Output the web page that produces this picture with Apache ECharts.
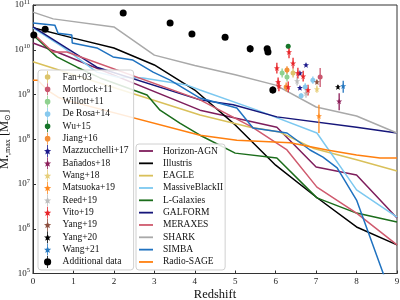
<!DOCTYPE html>
<html>
<head>
<meta charset="utf-8">
<script src="https://cdn.jsdelivr.net/npm/echarts@6/dist/echarts.min.js"></script>
<style>
html, body { margin: 0; padding: 0; background: #fff; }
#chart { width: 400px; height: 300px; }
</style>
</head>
<body>
<div id="chart"></div>
<script>
// model curves: [redshift, log10 Mbh]
const horizonAGN = [[0, 10.15], [0.59, 9.95], [4.13, 8.65], [6.03, 8.27], [7.0, 7.38], [8.0, 7.2], [9, 6.24]];
const illustris = [[0, 10.49], [1, 10.26], [2, 10.04], [3, 9.66], [4, 9.1], [5, 8.32], [6, 7.42], [7, 6.71], [8, 6.04], [9, 5.64]];
const eagle = [[0, 9.73], [4.13, 8.54], [5.37, 8.27], [6.1, 8.16], [6.92, 7.8], [8.0, 7.54], [9, 7.29]];
const massiveBlack = [[0, 10.49], [0.74, 10.06], [1.58, 9.5], [2.08, 9.39], [2.72, 9.37], [3.81, 9.21], [4.13, 9.1], [5.54, 8.65], [7.02, 8.14], [8.0, 6.87], [9, 6.26]];
const lGalaxies = [[0, 10.33], [0.59, 9.84], [1.09, 9.61], [1.66, 9.37], [2.82, 8.99], [3.14, 8.65], [3.63, 8.36], [4.13, 8.09], [5.0, 7.69], [6.03, 7.58], [7.02, 6.69], [8.0, 6.35], [9, 6.15]];
const galform = [[0, 10.51], [1.58, 9.61], [4.13, 8.88], [4.95, 8.77], [6.03, 8.5], [8.0, 8.27], [9, 8.14]];
const meraxes = [[0, 10.37], [0.49, 9.95], [0.84, 9.95], [4.13, 8.88], [5.42, 8.27], [6.28, 7.76], [7.02, 6.93], [8.0, 6.35], [9, 5.64]];
const shark = [[0, 10.84], [0.5, 10.69], [2, 10.51], [3, 9.88], [4, 9.65], [5, 9.44], [6, 9.21], [7, 8.72], [8, 8.52], [9, 8.14]];
const simba = [[0, 10.6], [0.54, 10.55], [0.62, 10.37], [0.96, 10.33], [0.97, 10.15], [1.58, 10.04], [1.98, 9.84], [2.47, 9.77], [2.97, 9.5], [3.39, 9.32], [4.13, 8.92], [5.04, 8.7], [5.44, 8.25], [6.28, 8.14], [6.85, 7.76], [7.17, 7.6], [7.52, 7.36], [8.0, 6.64], [8.7, 4.9]];
const radioSage = [[0, 9.32], [0.12, 9.32], [0.3, 9.15], [0.42, 9.06], [0.62, 8.94], [0.79, 8.88], [4.13, 8.09], [5.04, 7.98], [6.36, 7.92], [7.27, 7.76], [8.0, 7.65], [8.58, 7.58], [9, 7.58]];

// observed quasars: [redshift, log10 Mbh, err down, err up]
const fan03 = [[6.43, 9.48, 0.1, 0.1]];
const mortlock11 = [[7.1, 9.39, 0.22, 0.2]];
const willott11 = [[6.16, 9.48, 0.1, 0.1], [6.28, 9.39, 0.1, 0.1]];
const deRosa14 = [[6.73, 9.17, 0.08, 0.08], [6.92, 9.32, 0.08, 0.08], [6.63, 8.97, 0.06, 0.06]];
const wu15 = [[6.31, 10.08, 0.05, 0.05]];
const jiang16 = [[6.28, 9.55, 0.08, 0.08], [6.26, 9.17, 0.1, 0.1]];
const mazzucchelli17 = [[6.75, 9.66, 0.03, 0.03], [6.6, 9.48, 0.03, 0.03], [6.6, 9.15, 0.03, 0.03]];
const banados18 = [[7.57, 8.85, 0.2, 0.18]];
const wang18 = [[7.02, 9.12, 0.08, 0.08]];
const matsuoka19 = [[7.07, 8.52, 0.38, 0.25]];
const reed19 = [[6.53, 9.3, 0.1, 0.1], [6.75, 9.03, 0.1, 0.1]];
const vito19 = [[6.33, 9.95, 0.14, 0.12], [6.03, 9.59, 0.12, 0.12], [6.06, 9.28, 0.1, 0.1], [6.08, 9.19, 0.12, 0.12], [6.43, 9.7, 0.12, 0.12], [6.55, 9.48, 0.12, 0.12], [6.68, 9.41, 0.12, 0.12], [6.31, 9.17, 0.12, 0.12], [6.8, 9.1, 0.12, 0.12]];
const yang19 = [[7.02, 9.28, 0.05, 0.05]];
const yang20 = [[7.54, 9.17, 0.04, 0.04]];
const wang21 = [[7.67, 9.19, 0.15, 0.12]];
const additional = [[0.02, 10.33, 0, 0], [0.3, 10.46, 0, 0], [2.23, 10.82, 0, 0], [3.39, 10.6, 0, 0], [3.93, 10.35, 0, 0], [4.75, 10.28, 0, 0], [5.37, 10.02, 0.08, 0.08], [5.79, 10.02, 0, 0], [5.81, 9.95, 0, 0], [5.93, 9.1, 0.08, 0.08]];

const SERIF = 'Liberation Serif';
const CIRCLE = 'circle';
const STAR = 'path://M5,0L6.18,3.38L9.76,3.45L6.9,5.62L7.94,9.05L5,7L2.06,9.05L3.1,5.62L0.24,3.45L3.82,3.38Z';
const ICON_CIRCLE = 'path://M5.6,0h0.8v12h-0.8z M6,3.2a2.8,2.8 0 1,1 0,5.6a2.8,2.8 0 1,1 0,-5.6z';
const ICON_STAR = 'path://M5.6,0h0.8v12h-0.8z M6,2.6L7.1,5.1L9.6,5.2L7.6,6.8L8.3,9.4L6,7.9L3.7,9.4L4.4,6.8L2.4,5.2L4.9,5.1Z';
const ICON_BIG = 'path://M5.6,0h0.8v12h-0.8z M6,2.4a3.6,3.6 0 1,1 0,7.2a3.6,3.6 0 1,1 0,-7.2z';
const ICON_LINE = 'path://M0,0h14v1.8h-14z';

const observed = [
    { name: 'Fan+03', data: fan03, color: '#dcc46a', symbol: CIRCLE, size: 5, icon: ICON_CIRCLE },
    { name: 'Mortlock+11', data: mortlock11, color: '#c9566e', symbol: CIRCLE, size: 5, icon: ICON_CIRCLE },
    { name: 'Willott+11', data: willott11, color: '#8fd18f', symbol: CIRCLE, size: 5, icon: ICON_CIRCLE },
    { name: 'De Rosa+14', data: deRosa14, color: '#87c9ee', symbol: CIRCLE, size: 5, icon: ICON_CIRCLE },
    { name: 'Wu+15', data: wu15, color: '#17762a', symbol: CIRCLE, size: 5, icon: ICON_CIRCLE },
    { name: 'Jiang+16', data: jiang16, color: '#f39038', symbol: CIRCLE, size: 5, icon: ICON_CIRCLE },
    { name: 'Mazzucchelli+17', data: mazzucchelli17, color: '#1c1a8c', symbol: STAR, size: 6, icon: ICON_STAR },
    { name: 'Bañados+18', data: banados18, color: '#8c1f5a', symbol: STAR, size: 6, icon: ICON_STAR },
    { name: 'Wang+18', data: wang18, color: '#e7cf7b', symbol: STAR, size: 6, icon: ICON_STAR },
    { name: 'Matsuoka+19', data: matsuoka19, color: '#ff8a1f', symbol: STAR, size: 6, icon: ICON_STAR },
    { name: 'Reed+19', data: reed19, color: '#bdbdbd', symbol: STAR, size: 6, icon: ICON_STAR },
    { name: 'Vito+19', data: vito19, color: '#e8262a', symbol: STAR, size: 6, icon: ICON_STAR },
    { name: 'Yang+19', data: yang19, color: '#8c4f3f', symbol: STAR, size: 6, icon: ICON_STAR },
    { name: 'Yang+20', data: yang20, color: '#000000', symbol: STAR, size: 6, icon: ICON_STAR },
    { name: 'Wang+21', data: wang21, color: '#2678c0', symbol: STAR, size: 6, icon: ICON_STAR },
    { name: 'Additional data', data: additional, color: '#000000', symbol: CIRCLE, size: 7, icon: ICON_BIG },
];

const models = [
    { name: 'Horizon-AGN', data: horizonAGN, color: '#7e1e5c' },
    { name: 'Illustris', data: illustris, color: '#000000' },
    { name: 'EAGLE', data: eagle, color: '#d9c05a' },
    { name: 'MassiveBlackII', data: massiveBlack, color: '#7cc8f0' },
    { name: 'L-Galaxies', data: lGalaxies, color: '#1b6d1b' },
    { name: 'GALFORM', data: galform, color: '#16167a' },
    { name: 'MERAXES', data: meraxes, color: '#cf5a6e' },
    { name: 'SHARK', data: shark, color: '#a9a9a9' },
    { name: 'SIMBA', data: simba, color: '#1f72c0' },
    { name: 'Radio-SAGE', data: radioSage, color: '#ff7f0e' },
];

const pow10 = v => Math.pow(10, v);

const series = [];

models.forEach(m => {
    series.push({
        name: m.name,
        type: 'line',
        data: m.data.map(p => [p[0], pow10(p[1])]),
        showSymbol: false,
        symbol: 'none',
        lineStyle: { width: 1.5, color: m.color },
        itemStyle: { color: m.color },
        z: 2,
        animation: false,
    });
});

observed.forEach(o => {
    series.push({
        name: o.name,
        type: 'scatter',
        data: o.data.map(p => [p[0], pow10(p[1])]),
        symbol: o.symbol,
        symbolSize: o.size,
        itemStyle: { color: o.color, opacity: 1 },
        z: 4,
        animation: false,
    });
    series.push({
        name: o.name,
        type: 'custom',
        data: o.data.map(p => [p[0], pow10(p[1] - p[2]), pow10(p[1] + p[3])]),
        itemStyle: { color: o.color },
        renderItem: (params, api) => {
            const lo = api.coord([api.value(0), api.value(1)]);
            const hi = api.coord([api.value(0), api.value(2)]);
            return {
                type: 'line',
                shape: { x1: lo[0], y1: lo[1], x2: hi[0], y2: hi[1] },
                style: { stroke: o.color, lineWidth: 1.3 },
            };
        },
        z: 3,
        animation: false,
    });
});

const legendBox = {
    orient: 'vertical',
    itemHeight: 12,
    itemGap: 0.33,
    backgroundColor: 'rgba(255,255,255,0.85)',
    borderColor: '#d0d0d0',
    borderWidth: 1,
    borderRadius: 3,
    selectedMode: false,
};

const chart = echarts.init(document.getElementById('chart'), null, { renderer: 'canvas' });

chart.setOption({
    backgroundColor: '#fff',
    animation: false,
    grid: {
        left: 33, right: 3, top: 5, bottom: 26.5,
        outerBoundsMode: 'none', containLabel: false,
        show: true, borderColor: '#333', borderWidth: 1, backgroundColor: 'transparent',
    },
    legend: [
        Object.assign({}, legendBox, {
            left: 38, top: 70,
            itemWidth: 12,
            padding: [1, 5, 2, 6],
            textStyle: { fontFamily: SERIF, fontSize: 9.5, color: '#111', lineHeight: 12, padding: [0, 0, 0, 4] },
            data: observed.map(o => ({ name: o.name, icon: o.icon })),
        }),
        Object.assign({}, legendBox, {
            left: 136, top: 144,
            itemWidth: 14,
            padding: [1, 2, 2, 3],
            textStyle: { fontFamily: SERIF, fontSize: 9.5, color: '#111', lineHeight: 12, padding: [0, 0, 0, 5] },
            data: models.map(m => ({ name: m.name, icon: ICON_LINE })),
        }),
    ],
    xAxis: {
        type: 'value',
        min: 0, max: 9, interval: 1,
        name: 'Redshift',
        nameLocation: 'middle',
        nameGap: 15,
        nameMoveOverlap: false,
        nameTextStyle: { fontFamily: SERIF, fontSize: 12.5, color: '#111' },
        axisLine: { lineStyle: { color: '#333' } },
        axisTick: { inside: true, length: 3, lineStyle: { color: '#333' } },
        axisLabel: { fontFamily: SERIF, fontSize: 9, color: '#222', margin: 4 },
        splitLine: { show: false },
    },
    yAxis: {
        type: 'log',
        logBase: 10,
        min: 1e5, max: 1e11,
        name: '{m|M}{s|•,max}{m| [M}{s|⊙}{m|]}',
        nameLocation: 'middle',
        nameGap: 21,
        nameMoveOverlap: false,
        nameTextStyle: {
            fontFamily: SERIF, color: '#111',
            rich: {
                m: { fontFamily: SERIF, fontSize: 12.5, color: '#111' },
                s: { fontFamily: SERIF, fontSize: 8, color: '#111', verticalAlign: 'bottom', padding: [6, 0, 0, 0] },
            },
        },
        axisLine: { show: true, lineStyle: { color: '#333' } },
        axisTick: { inside: true, length: 3, lineStyle: { color: '#333' } },
        axisLabel: {
            margin: 3,
            formatter: v => '{b|10}{e|' + Math.round(Math.log10(v)) + '}',
            rich: {
                b: { fontFamily: SERIF, fontSize: 9, color: '#222' },
                e: { fontFamily: SERIF, fontSize: 6.5, color: '#222', verticalAlign: 'top', padding: [0, 0, 6, 0] },
            },
        },
        splitLine: { show: false },
    },
    series: series,
});
</script>
</body>
</html>
